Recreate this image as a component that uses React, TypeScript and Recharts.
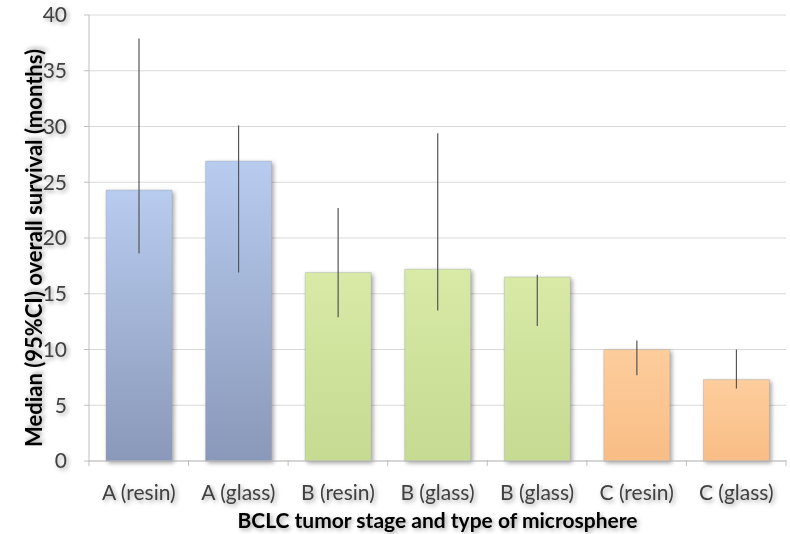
import { useEffect } from 'react'
import { BarChart, Bar, XAxis, YAxis, CartesianGrid, ErrorBar, Cell } from 'recharts'

const categories = ['A (resin)', 'A (glass)', 'B (resin)', 'B (glass)', 'B (glass)', 'C (resin)', 'C (glass)']
const medians = [24.3, 26.9, 16.9, 17.2, 16.5, 10.0, 7.3]
const ciLower = [18.6, 16.9, 12.9, 13.5, 12.1, 7.7, 6.5]
const ciUpper = [37.9, 30.1, 22.7, 29.4, 16.7, 10.8, 10.0]
const stages = ['A', 'A', 'B', 'B', 'B', 'C', 'C']
const yTicks = [0, 5, 10, 15, 20, 25, 30, 35, 40]

const fills: Record<string, string> = { A: 'url(#gradA)', B: 'url(#gradB)', C: 'url(#gradC)' }

const data = categories.map((name, i) => ({
  name,
  median: medians[i],
  err: [medians[i] - ciLower[i], ciUpper[i] - medians[i]],
  stage: stages[i],
}))

const FONT = 'Lato, "Open Sans", sans-serif'
const SHADOW = 'drop-shadow(2px 2px 2px rgba(0,0,0,0.35))'

function XTick(props: any) {
  const { x, y, payload, index } = props
  const half = 49.8
  return (
    <g>
      <line x1={x - half} x2={x - half} y1={y - 9} y2={y - 3} stroke="#bfbfbf" />
      {index === categories.length - 1 && (
        <line x1={x + half} x2={x + half} y1={y - 9} y2={y - 3} stroke="#bfbfbf" />
      )}
      <text x={x} y={y + 31} textAnchor="middle" fontSize={21} fill="#404040" fontFamily={FONT} style={{ filter: SHADOW }}>
        {payload.value}
      </text>
    </g>
  )
}

function YLabel(props: any) {
  const { viewBox } = props
  const cx = 33
  const cy = viewBox.y + viewBox.height / 2 + 10
  return (
    <text
      x={cx}
      y={cy}
      transform={`rotate(-90, ${cx}, ${cy})`}
      textAnchor="middle"
      dominantBaseline="central"
      fontSize={22}
      fontWeight="bold"
      fill="#000"
      fontFamily={FONT}
      style={{ filter: SHADOW }}
    >
      Median (95%CI) overall survival (months)
    </text>
  )
}

export default function App() {
  useEffect(() => {
    document.body.style.margin = '0'
  }, [])

  return (
    <div style={{ width: 790, height: 534, background: '#fff' }}>
      <BarChart width={790} height={534} data={data} margin={{ top: 15, right: 4, left: 0, bottom: 0 }} barSize={66}>
        <defs>
          <linearGradient id="gradA" x1="0" y1="0" x2="0" y2="1">
            <stop offset="0%" stopColor="#b8ccef" />
            <stop offset="100%" stopColor="#8a98b9" />
          </linearGradient>
          <linearGradient id="gradB" x1="0" y1="0" x2="0" y2="1">
            <stop offset="0%" stopColor="#d8eaa6" />
            <stop offset="100%" stopColor="#c6da92" />
          </linearGradient>
          <linearGradient id="gradC" x1="0" y1="0" x2="0" y2="1">
            <stop offset="0%" stopColor="#fdcd9c" />
            <stop offset="100%" stopColor="#f9bd86" />
          </linearGradient>
        </defs>
        <CartesianGrid vertical={false} stroke="#d9d9d9" />
        <XAxis
          dataKey="name"
          height={73}
          axisLine={{ stroke: '#bfbfbf' }}
          tickLine={false}
          tick={<XTick />}
          interval={0}
          label={{
            value: 'BCLC tumor stage and type of microsphere',
            position: 'insideBottom',
            offset: 6,
            fontSize: 21,
            fontWeight: 'bold',
            fill: '#000',
            fontFamily: FONT,
            style: { filter: SHADOW },
          }}
        />
        <YAxis
          width={89}
          domain={[0, 40]}
          ticks={yTicks}
          axisLine={{ stroke: '#bfbfbf' }}
          tickLine={{ stroke: '#bfbfbf' }}
          tickSize={5}
          tickMargin={17}
          tick={{ fontSize: 21, fill: '#404040', fontFamily: FONT, style: { filter: SHADOW } }}
          label={<YLabel />}
        />
        <Bar dataKey="median" isAnimationActive={false} stroke="#9aa0a8" strokeOpacity={0.35} style={{ filter: SHADOW }}>
          {data.map((d, i) => (
            <Cell key={i} fill={fills[d.stage]} />
          ))}
          <ErrorBar dataKey="err" width={0} stroke="#555" strokeWidth={1.2} />
        </Bar>
      </BarChart>
    </div>
  )
}
